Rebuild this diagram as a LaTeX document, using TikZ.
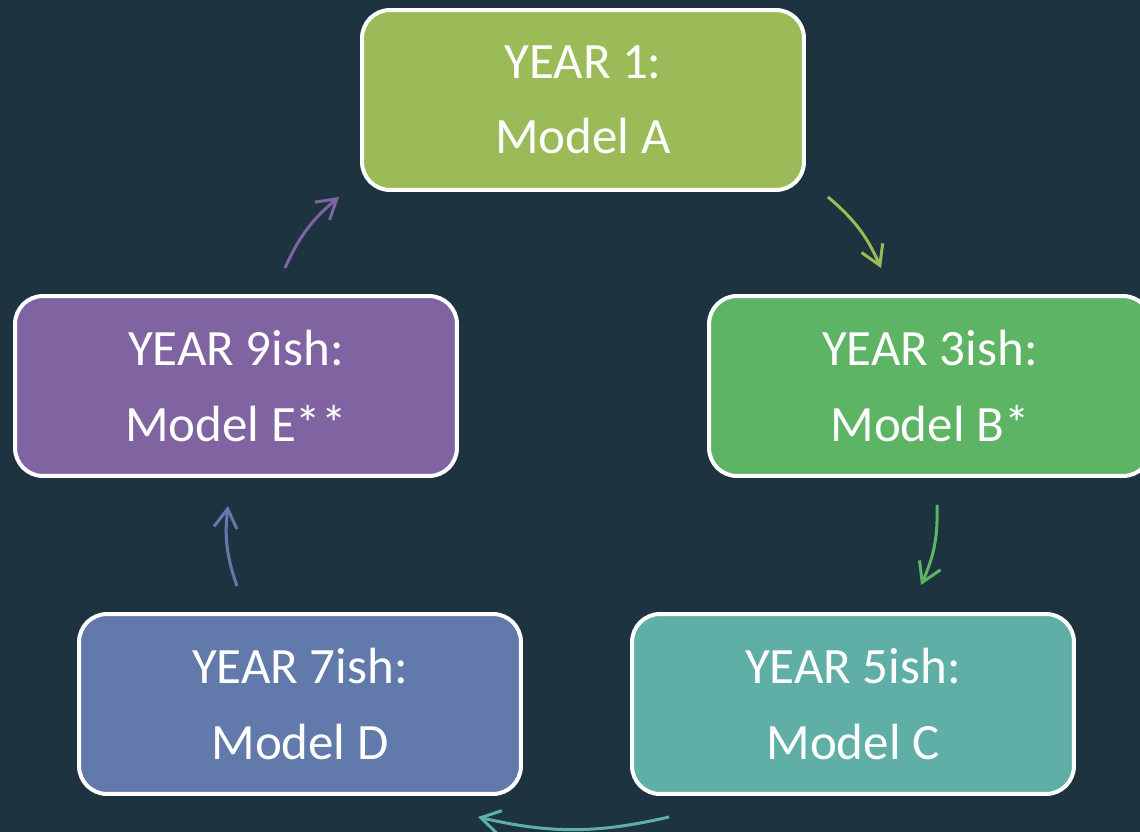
\documentclass[tikz,border=0pt]{standalone}
\usepackage{fontspec}
\setmainfont{Carlito}
\usetikzlibrary{arrows.meta,calc}

\definecolor{bgdark}{HTML}{1E3340}
\definecolor{yearA}{HTML}{9BBB59}
\definecolor{yearB}{HTML}{5CB464}
\definecolor{yearC}{HTML}{5FAFA6}
\definecolor{yearD}{HTML}{617AAB}
\definecolor{yearE}{HTML}{8064A2}

\tikzset{
	yearbox/.style={draw=white, line width=0.08cm, rounded corners=0.56cm,
		minimum width=8.84cm, minimum height=3.6cm, text=white, align=center,
		font=\fontsize{29}{43}\selectfont},
	cyclearrow/.style={line width=0.06cm, bend left=13,
		-{Straight Barb[length=0.38cm,width=0.46cm,line width=0.06cm]}},
}

\begin{document}
\begin{tikzpicture}[x=0.02cm,y=-0.02cm]
		\useasboundingbox (0,0) rectangle (1140,832);
		\clip (0,0) rectangle (1140,832);
		\fill[bgdark] (0,0) rectangle (1140,832);
		% the five stages
		\node[yearbox, fill=yearA] (a) at (583,100) {YEAR 1:\\Model A};
		\node[yearbox, fill=yearB] (b) at (930,386) {YEAR 3ish:\\Model B*};
		\node[yearbox, fill=yearC] (c) at (853,704) {YEAR 5ish:\\Model C};
		\node[yearbox, fill=yearD] (d) at (300,704) {YEAR 7ish:\\Model D};
		\node[yearbox, fill=yearE] (e) at (236,386) {YEAR 9ish:\\Model E**};
		% arrow ends, just off the boxes
		\coordinate (ab1) at ($(a.south east)+(22,5)$);
		\coordinate (ab2) at ($(b.north)+(-49,-26)$);
		\coordinate (bc1) at ($(b.south)+(7,27)$);
		\coordinate (bc2) at ($(c.north)+(68,-27)$);
		\coordinate (cd1) at ($(c.south west)+(39,21)$);
		\coordinate (cd2) at ($(d.south east)+(-45,21)$);
		\coordinate (de1) at ($(d.north)+(-63,-26)$);
		\coordinate (de2) at ($(e.south)+(-8,28)$);
		\coordinate (ea1) at ($(e.north)+(49,-26)$);
		\coordinate (ea2) at ($(a.south west)+(-21,5)$);
		\draw[cyclearrow, yearA] (ab1) to (ab2);
		\draw[cyclearrow, yearB] (bc1) to (bc2);
		\draw[cyclearrow, yearC] (cd1) to (cd2);
		\draw[cyclearrow, yearD] (de1) to (de2);
		\draw[cyclearrow, yearE] (ea1) to (ea2);
	\end{tikzpicture}
\end{document}
